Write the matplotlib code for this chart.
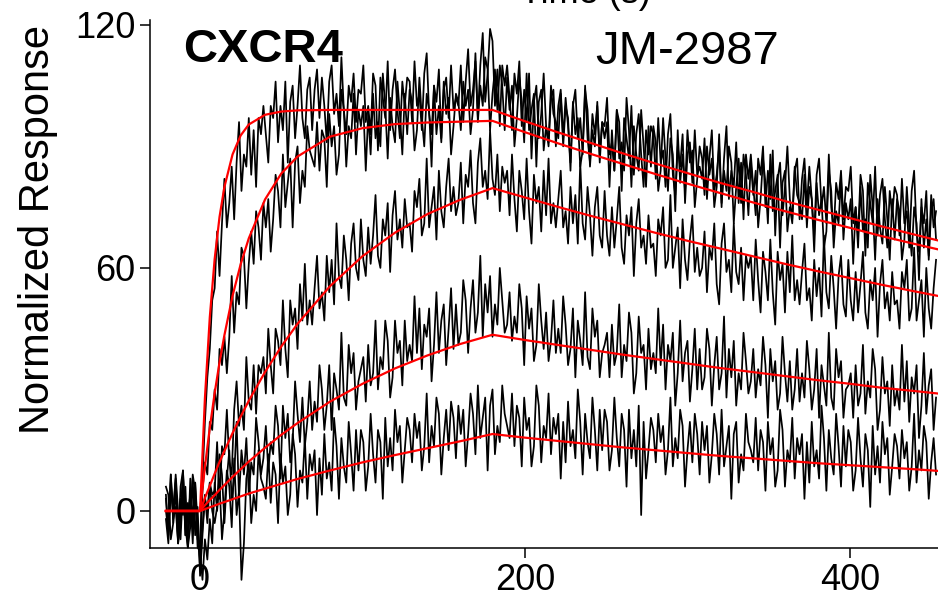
import numpy as np
import matplotlib.pyplot as plt

plt.rcParams['font.family'] = ['Liberation Sans', 'DejaVu Sans']

# sample times of the recorded traces (s)
t = np.arange(-21, 454, 1.5)

# recorded responses, read off the picture (highest concentration first)
# one row = 30 s of signal
trace1 = [4, -6, 9, -2, 1, -8, 6, 10, -4, -9, 3, -1, 7, -7, -8, 8, 22, 33, 40, 52,
          55, 69, 58, 71, 82, 70, 76, 85, 72, 86, 96, 79, 88, 85, 97, 83, 94, 80, 97, 93,
          100, 93, 86, 100, 97, 106, 91, 100, 94, 106, 86, 101, 105, 92, 100, 110, 97, 92, 104, 107,
          94, 104, 109, 97, 107, 100, 91, 106, 110, 98, 103, 95, 112, 99, 93, 105, 101, 108, 96, 104,
          103, 110, 96, 100, 93, 108, 105, 89, 107, 102, 97, 111, 94, 104, 109, 99, 92, 106, 100, 107,
          106, 96, 111, 100, 103, 94, 108, 113, 98, 93, 105, 101, 109, 92, 104, 107, 97, 110, 99, 102,
          100, 110, 96, 106, 114, 100, 104, 111, 97, 110, 118, 101, 108, 119, 116, 100, 109, 95, 110, 105,
          110, 102, 94, 108, 103, 111, 95, 104, 96, 108, 87, 101, 105, 92, 98, 108, 95, 90, 102, 104,
          90, 100, 104, 92, 102, 95, 86, 100, 104, 92, 97, 88, 105, 92, 86, 98, 93, 100, 88, 96,
          95, 102, 88, 91, 84, 99, 96, 79, 97, 92, 87, 100, 83, 93, 98, 88, 80, 94, 88, 95,
          93, 82, 97, 86, 89, 80, 93, 98, 83, 78, 90, 85, 93, 76, 88, 91, 81, 94, 83, 85,
          82, 92, 77, 87, 94, 79, 83, 90, 75, 87, 95, 77, 84, 80, 91, 76, 86, 72, 88, 82,
          88, 80, 73, 87, 83, 90, 75, 84, 77, 89, 68, 82, 86, 73, 80, 90, 77, 72, 84, 87,
          72, 82, 87, 75, 85, 77, 68, 83, 87, 75, 80, 71, 88, 75, 69, 81, 77, 84, 72, 80,
          79, 85, 71, 75, 68, 83, 79, 63, 81, 76, 71, 85, 68, 78, 82, 72, 65, 79, 73, 80,
          78, 68, 82, 71, 74, 65, 79, 84, 69, 64, 75, 71, 79, 62, 74, 77, 67]
trace2 = [6, 4, -7, -3, 9, 0, -7, 6, 2, -9, 8, -4, 3, -6, -12, 5, 12, 9, 22, 20,
          30, 25, 40, 36, 43, 34, 43, 58, 44, 54, 51, 65, 63, 50, 61, 69, 61, 74, 70, 62,
          76, 70, 77, 64, 72, 83, 79, 70, 88, 75, 81, 87, 70, 86, 90, 76, 84, 80, 95, 89,
          87, 85, 96, 84, 94, 92, 80, 98, 90, 95, 83, 88, 104, 99, 85, 95, 92, 103, 88, 99,
          95, 100, 84, 98, 88, 103, 92, 96, 90, 108, 100, 87, 102, 95, 91, 106, 98, 88, 103, 93,
          104, 101, 89, 94, 107, 97, 90, 103, 99, 85, 105, 93, 100, 91, 106, 98, 102, 88, 95, 103,
          101, 94, 106, 100, 104, 93, 99, 113, 96, 105, 100, 112, 109, 94, 103, 109, 99, 110, 105, 94,
          107, 99, 105, 90, 97, 107, 101, 91, 108, 94, 99, 103, 85, 101, 104, 89, 95, 91, 105, 98,
          96, 92, 103, 90, 100, 97, 84, 101, 93, 97, 85, 89, 104, 99, 85, 94, 90, 101, 86, 96,
          92, 96, 80, 94, 84, 99, 87, 91, 84, 102, 94, 80, 95, 88, 84, 99, 90, 80, 95, 85,
          95, 91, 79, 84, 97, 87, 79, 92, 88, 74, 94, 81, 88, 79, 94, 86, 89, 75, 82, 90,
          87, 78, 90, 83, 87, 75, 80, 93, 76, 84, 79, 90, 86, 71, 80, 87, 76, 88, 83, 73,
          86, 78, 84, 70, 77, 87, 81, 71, 88, 74, 79, 83, 65, 81, 84, 69, 75, 71, 85, 78,
          76, 72, 83, 70, 80, 77, 64, 81, 73, 77, 65, 69, 84, 79, 65, 74, 71, 82, 67, 76,
          72, 77, 61, 75, 65, 80, 69, 72, 65, 83, 75, 62, 77, 70, 66, 80, 72, 62, 77, 67,
          77, 74, 62, 67, 80, 70, 63, 75, 71, 57, 77, 65, 72, 63, 78, 70, 74]
trace3 = [-2, -8, 5, 1, 8, -7, -4, 9, -6, -1, 4, -8, 7, -3, -14, -4, 3, 0, 7, 4,
          5, 17, 3, 16, 14, 25, 12, 9, 25, 32, 21, 26, 20, 38, 27, 25, 36, 24, 36, 34,
          38, 29, 45, 36, 29, 45, 42, 36, 52, 40, 33, 52, 46, 50, 40, 56, 47, 61, 46, 52,
          46, 55, 63, 50, 54, 47, 63, 54, 62, 51, 71, 58, 55, 68, 62, 52, 66, 71, 60, 57,
          72, 62, 58, 70, 61, 68, 78, 63, 60, 72, 68, 76, 59, 73, 79, 67, 72, 65, 77, 70,
          71, 64, 79, 75, 82, 68, 71, 87, 70, 75, 80, 67, 84, 74, 70, 80, 87, 74, 80, 73,
          76, 86, 71, 83, 80, 89, 76, 71, 86, 92, 80, 84, 77, 94, 82, 78, 88, 74, 85, 81,
          84, 73, 88, 77, 69, 84, 79, 72, 87, 74, 66, 83, 76, 80, 69, 84, 73, 87, 71, 76,
          70, 77, 84, 70, 74, 66, 80, 71, 78, 66, 86, 71, 67, 80, 73, 63, 75, 80, 68, 65,
          79, 68, 63, 75, 65, 72, 80, 65, 61, 73, 68, 75, 58, 71, 77, 65, 68, 61, 73, 65,
          66, 58, 72, 68, 75, 60, 62, 78, 60, 65, 70, 55, 72, 62, 57, 67, 73, 59, 65, 58,
          60, 69, 54, 65, 62, 71, 56, 51, 66, 71, 59, 62, 54, 71, 59, 56, 65, 52, 63, 60,
          63, 52, 67, 57, 49, 64, 59, 52, 67, 54, 46, 64, 57, 61, 49, 64, 54, 68, 52, 57,
          51, 59, 66, 52, 55, 47, 62, 53, 60, 48, 68, 54, 50, 63, 55, 45, 58, 63, 51, 48,
          62, 52, 47, 59, 49, 56, 64, 49, 45, 57, 52, 60, 43, 56, 62, 50, 54, 47, 59, 51,
          52, 45, 59, 55, 62, 47, 50, 65, 47, 52, 57, 43, 60, 50, 45, 55, 62]
trace4 = [0, -5, 9, -3, 7, -8, 3, -1, 6, -9, -4, 8, -6, 1, -16, -6, 4, -3, 7, 0,
          -3, 1, 14, 9, -3, 8, 15, 3, 8, 22, 3, 15, 9, 18, 4, 12, 9, 23, 17, 9,
          13, 21, 10, 17, 14, 26, 21, 8, 26, 18, 24, 12, 17, 32, 24, 17, 28, 16, 22, 32,
          20, 27, 22, 36, 30, 20, 26, 36, 20, 34, 30, 25, 44, 28, 26, 41, 34, 39, 25, 32,
          35, 38, 27, 41, 31, 34, 47, 30, 38, 35, 47, 42, 28, 33, 47, 39, 42, 31, 47, 37,
          41, 37, 53, 39, 50, 35, 46, 43, 50, 32, 41, 54, 39, 47, 51, 36, 45, 55, 40, 51,
          41, 44, 57, 52, 39, 50, 57, 44, 49, 63, 43, 56, 49, 58, 43, 51, 46, 60, 52, 44,
          46, 54, 42, 48, 44, 56, 50, 36, 53, 45, 50, 37, 41, 56, 47, 40, 49, 37, 42, 52,
          39, 45, 39, 53, 46, 36, 40, 50, 33, 47, 42, 36, 54, 38, 35, 50, 43, 47, 33, 39,
          41, 44, 33, 46, 36, 39, 51, 33, 41, 37, 49, 44, 29, 34, 48, 39, 41, 30, 45, 35,
          39, 34, 50, 36, 46, 30, 41, 37, 44, 26, 34, 47, 32, 39, 42, 27, 35, 45, 30, 40,
          30, 33, 45, 40, 26, 36, 43, 30, 34, 48, 28, 40, 33, 42, 26, 34, 30, 44, 37, 29,
          32, 40, 28, 35, 31, 43, 36, 23, 40, 32, 37, 25, 29, 43, 34, 27, 37, 25, 30, 40,
          27, 34, 28, 42, 35, 25, 30, 40, 23, 36, 31, 26, 44, 28, 25, 40, 33, 37, 23, 30,
          31, 34, 23, 36, 26, 29, 41, 24, 32, 28, 40, 35, 20, 25, 38, 29, 32, 21, 36, 26,
          30, 25, 41, 27, 37, 22, 33, 29, 36, 18, 26, 39, 24, 31, 35, 20, 28]
trace5 = [3, -5, 7, 0, 4, -8, -2, 10, -6, 2, -3, 9, 5, -9, -10, -17, -7, -12, -2, -8,
          7, 0, 7, -7, 0, 10, 6, -4, 13, -1, 5, -17, -8, 8, 12, -3, 4, 0, 15, 8,
          6, 3, 14, 2, 12, 9, -3, 14, 7, 11, -1, 4, 19, 14, 1, 10, 7, 18, 3, 14,
          10, 15, -1, 13, 4, 19, 8, 12, 5, 23, 16, 3, 18, 11, 7, 22, 14, 5, 20, 10,
          20, 17, 5, 11, 24, 14, 7, 20, 17, 3, 23, 11, 18, 10, 25, 17, 21, 7, 15, 23,
          20, 12, 24, 18, 22, 10, 16, 29, 12, 21, 16, 28, 24, 9, 18, 25, 15, 27, 23, 13,
          26, 19, 25, 11, 19, 29, 24, 14, 31, 18, 23, 28, 10, 26, 30, 14, 21, 17, 31, 24,
          21, 18, 29, 16, 26, 23, 11, 28, 20, 23, 11, 16, 31, 26, 12, 21, 18, 29, 14, 23,
          19, 24, 8, 22, 12, 27, 16, 20, 13, 30, 22, 9, 24, 17, 13, 28, 20, 10, 25, 15,
          25, 22, 10, 15, 28, 18, 11, 24, 20, 6, 25, 13, 20, 11, 26, -1, 22, 8, 15, 23,
          20, 12, 24, 17, 21, 9, 15, 28, 11, 18, 13, 25, 21, 6, 15, 22, 12, 24, 19, 9,
          22, 15, 21, 7, 14, 24, 19, 9, 25, 11, 16, 21, 3, 19, 22, 7, 14, 10, 24, 17,
          15, 12, 23, 10, 20, 17, 5, 22, 14, 18, 6, 10, 25, 20, 6, 15, 12, 23, 8, 18,
          14, 19, 3, 17, 7, 22, 11, 15, 8, 26, 18, 5, 20, 13, 9, 24, 16, 6, 21, 11,
          20, 17, 5, 10, 23, 13, 6, 19, 15, 1, 21, 9, 16, 7, 22, 14, 18, 4, 11, 19,
          16, 8, 20, 13, 17, 5, 11, 24, 7, 15, 10, 21, 17, 3, 12, 18, 9]

# fitted curves (red), read at these times
fit_t = [-21, 0, 3, 6, 9, 12, 15, 20, 25, 30, 40, 50, 60, 80, 100, 120, 140,
         160, 180, 200, 220, 240, 260, 280, 300, 320, 340, 360, 380, 400, 420,
         440, 454]
fit1 = [0, 0, 27.8, 47.8, 62.2, 72.6, 80.0, 88.0, 92.7, 95.4, 97.8, 98.6, 98.9,
        99.0, 99.0, 99.0, 99.0, 99.0, 99.0, 96.2, 93.5, 90.9, 88.3, 85.8, 83.4,
        81.0, 78.8, 76.5, 74.4, 72.3, 70.2, 68.2, 66.8]
fit2 = [0, 0, 10.9, 20.5, 29.1, 36.7, 43.4, 53.1, 60.9, 67.3, 76.9, 83.3, 87.5,
        92.4, 94.5, 95.5, 95.9, 96.1, 96.3, 93.5, 90.8, 88.2, 85.7, 83.2, 80.8,
        78.5, 76.2, 74.0, 71.9, 69.9, 67.8, 65.9, 64.6]
fit3 = [0, 0, 3.2, 6.2, 9.2, 12.1, 14.8, 19.2, 23.3, 27.2, 34.3, 40.6, 46.2,
        55.5, 62.9, 68.7, 73.3, 76.8, 79.7, 77.4, 75.1, 72.9, 70.8, 68.7, 66.7,
        64.8, 62.9, 61.0, 59.2, 57.5, 55.8, 54.2, 53.1]
fit4 = [0, 0, 1.4, 2.7, 3.9, 5.2, 6.4, 8.4, 10.3, 12.2, 15.6, 18.8, 21.7,
        27.0, 31.4, 35.2, 38.4, 41.2, 43.5, 42.2, 41.0, 39.8, 38.6, 37.5, 36.4,
        35.3, 34.3, 33.3, 32.3, 31.4, 30.4, 29.6, 29.0]
fit5 = [0, 0, 0.45, 0.9, 1.35, 1.8, 2.2, 2.9, 3.6, 4.3, 5.5, 6.7, 7.9,
        10.0, 12.0, 13.8, 15.5, 17.2, 19.0, 18.1, 17.3, 16.5, 15.7, 15.0, 14.3,
        13.6, 13.0, 12.4, 11.8, 11.3, 10.8, 10.3, 9.9]

x_ticks = [0, 200, 400]
y_ticks = [0, 60, 120]

fig = plt.figure(figsize=(9.38, 6.10), dpi=100)
ax = fig.add_axes([150/938, 62/610, 788/938, 528/610])

for tr in [trace1, trace2, trace3, trace4, trace5]:
    ax.plot(t, tr, color='black', lw=1.25, clip_on=False, zorder=2)
for f in [fit1, fit2, fit3, fit4, fit5]:
    ax.plot(fit_t, f, color='red', lw=1.6, clip_on=False, zorder=3)

ax.set_xlim(-30.8, 454.2)
ax.set_ylim(-9.14, 121.2)
ax.set_xticks(x_ticks)
ax.set_yticks(y_ticks)
ax.tick_params(labelsize=26, length=7, width=1.1, direction='out', colors='black')
ax.spines['top'].set_visible(False)
ax.spines['right'].set_visible(False)
ax.spines['left'].set_linewidth(1.1)
ax.spines['bottom'].set_linewidth(1.1)

fig.text(38/938, 1 - 229/610, 'Normalized Response', rotation=90, fontsize=30,
         ha='center', va='center')
fig.text(585/938, 1 + 6/610, 'Time (s)', fontsize=26, ha='center', va='center')
fig.text(183/938, 1 - 50/610, 'CXCR4', fontsize=34, fontweight='bold',
         ha='left', va='center')
fig.text(687/938, 1 - 52/610, 'JM-2987', fontsize=34, ha='center', va='center')

fig.savefig('out.png', dpi=100)
